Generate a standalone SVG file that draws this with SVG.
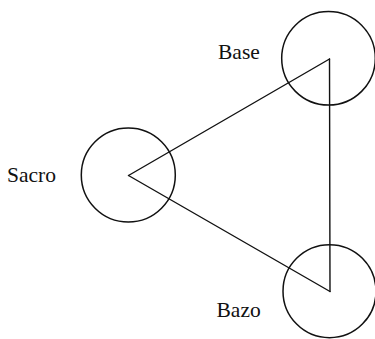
<svg xmlns="http://www.w3.org/2000/svg" width="375" height="339" viewBox="0 0 375 339">
<style>
.node{fill:none;stroke:#111;stroke-width:1.5}
.edge{fill:none;stroke:#111;stroke-width:1.4;stroke-linecap:round}
.lbl{font-family:"Liberation Serif","Times New Roman",serif;font-size:21.5px;fill:#111}
</style>
<rect width="375" height="339" fill="#fff"/>
<g id="connectors">
<line class="edge" x1="128.5" y1="175.5" x2="329.5" y2="59"/>
<line class="edge" x1="329.5" y1="59" x2="330" y2="291.5"/>
<line class="edge" x1="330" y1="291.5" x2="128.5" y2="175.5"/>
</g>
<g id="sacro">
<circle class="node" cx="128.3" cy="175" r="47"/>
<text class="lbl" x="7" y="181.7">Sacro</text>
</g>
<g id="base">
<circle class="node" cx="328.5" cy="58.3" r="46.8"/>
<text class="lbl" x="218" y="59.3">Base</text>
</g>
<g id="bazo">
<circle class="node" cx="329.5" cy="291.2" r="46.5"/>
<text class="lbl" x="216.5" y="317">Bazo</text>
</g>
</svg>
